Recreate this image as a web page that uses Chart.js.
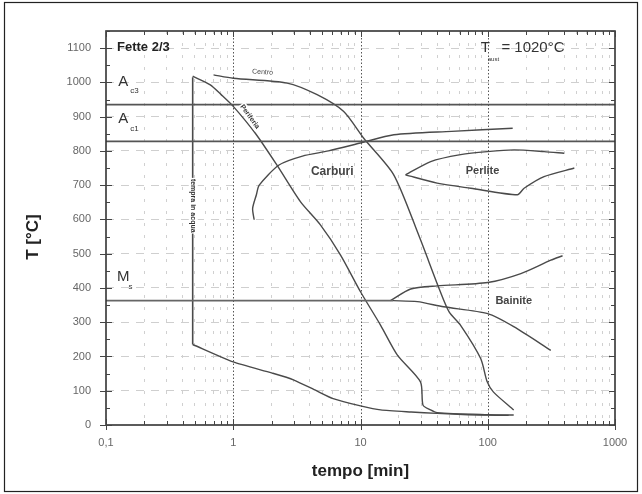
<!DOCTYPE html>
<html><head><meta charset="utf-8">
<script src="https://cdn.jsdelivr.net/npm/chart.js@4/dist/chart.umd.min.js"></script>
<style>html,body{margin:0;padding:0;background:#fff}#wrap{width:642px;height:494px}</style>
</head><body><div id="wrap"><canvas id="c" width="642" height="494"></canvas></div>
<script>
// ---- data (time in min, temperature in °C) ----
const xTickLabels = {0.1:"0,1", 1:"1", 10:"10", 100:"100", 1000:"1000"};
const yTickValues = [0,100,200,300,400,500,600,700,800,900,1000,1100];
const Ac3 = 935, Ac1 = 828, Ms = 363;
const curveFastDrop = [[0.48,1015],[0.48,235]];
const curveFast = [[0.48,235],[1,184],[2,152],[2.97,132],[4.5,100],[6.1,77],[10,56],[14.4,44],[25,38],[40,34],[70,30],[100,29],[146,28]];
const curveMid = [[0.48,1018],[0.66,993],[0.8,965],[1.0,930],[1.5,850],[2.2,759],[3.37,652],[4.84,584],[6.97,496],[10,389],[14.4,291],[19.5,204],[29.6,126],[31,58],[35.5,44],[40,36],[100,30],[160,29]];
const curveSlow = [[0.70,1022],[1.0,1012],[2.65,998],[4.56,964],[7.38,915],[10.6,837],[18.2,731],[28.6,555],[41.5,398],[49.7,330],[61.2,291],[88,194],[99,126],[111,96],[160,44]];
const carbides = [[1.46,599],[1.42,632],[1.52,672],[1.6,700],[2.29,759],[3.5,785],[5.6,800],[10,823],[18.3,847],[52,857],[157,866]];
const pearliteTop = [[22.6,730],[35.6,769],[61.2,789],[99,798],[161,803],[277,798],[398,793]];
const pearliteBottom = [[22.6,730],[40,706],[73.5,691],[171,672],[193,691],[277,725],[479,750]];
const bainiteTop = [[17.2,363],[24.8,397],[40,406],[100,416],[182,442],[313,481],[387,494]];
const bainiteBottom = [[18,363],[28,360],[45,345],[100,325],[160,287],[313,218]];
const msLine = [[0.1,Ms],[18,Ms]];
const ac3Line = [[0.1,Ac3],[1000,Ac3]];
const ac1Line = [[0.1,Ac1],[1000,Ac1]];

const pts = a => a.map(p => ({x:p[0], y:p[1]}));
const LC = '#4a4a4a';
const ds = (d, w, c, t) => ({data: pts(d), showLine:true, borderColor:c||LC, borderWidth:w||1.4, pointRadius:0, fill:false, tension:t===undefined?0.25:t});

const xTicks = [];
[0.1,1,10,100].forEach(d => { for (let k=1;k<10;k++) xTicks.push(+(d*k).toPrecision(3)); });
xTicks.push(1000);

const FONT = '"Liberation Sans", Arial, sans-serif';

const decor = {
  id:'decor',
  beforeDatasetsDraw(chart){
    const {ctx, chartArea:a, scales:{x,y}} = chart;
    ctx.save();
    ctx.strokeStyle='#555'; ctx.lineWidth=1; ctx.setLineDash([1.5,2]);
    [1,10,100].forEach(v=>{const px=Math.round(x.getPixelForValue(v))+0.5; ctx.beginPath(); ctx.moveTo(px,a.top); ctx.lineTo(px,a.bottom); ctx.stroke();});
    ctx.restore();
  },
  afterDatasetsDraw(chart){
    const {ctx, chartArea:a, scales:{x,y}} = chart;
    ctx.save();
    ctx.strokeStyle='#222'; ctx.lineWidth=1.2;
    ctx.strokeRect(4.5,2.5,633,489);
    ctx.strokeStyle='#333'; ctx.lineWidth=1.6;
    ctx.strokeRect(a.left,a.top,a.right-a.left,a.bottom-a.top);
    ctx.lineWidth=1; ctx.strokeStyle='#444';
    const line=(x1,y1,x2,y2)=>{ctx.beginPath();ctx.moveTo(x1,y1);ctx.lineTo(x2,y2);ctx.stroke();};
    for(let v=0; v<=1150; v+=50){
      const py=Math.round(y.getPixelForValue(v))+0.5, major=v%100===0;
      line(a.left-(major?6:0), py, a.left+(major?6:4), py);
      line(a.right-(major?6:4), py, a.right, py);
    }
    xTicks.forEach(v=>{
      const px=Math.round(x.getPixelForValue(v))+0.5, major=xTickLabels[v]!==undefined;
      line(px, a.bottom-(major?6:4), px, a.bottom+(major?5:0));
      line(px, a.top, px, a.top+(major?6:4));
    });
    const txt=(s,px,py,size,opt={})=>{
      ctx.save(); ctx.font=(opt.bold?'bold ':'')+size+'px '+FONT; ctx.fillStyle=opt.color||'#222';
      ctx.textAlign=opt.align||'left'; ctx.textBaseline='middle';
      ctx.translate(px,py); if(opt.rot) ctx.rotate(opt.rot);
      if(opt.bg){const w=ctx.measureText(s).width; ctx.fillStyle='#fff'; const ox=opt.align==='center'?-w/2:0; ctx.fillRect(ox-1,-size/2-1,w+2,size+2); ctx.fillStyle=opt.color||'#222';}
      ctx.fillText(s,0,0); ctx.restore();
    };
    const X=v=>x.getPixelForValue(v), Y=v=>y.getPixelForValue(v);
    txt('Fette 2/3', X(0.122), Y(1102), 13, {bold:true});
    txt('T', X(88), Y(1102), 15, {color:'#333'});
    txt('aust', X(100), Y(1068), 6, {color:'#333'});
    txt('= 1020°C', X(128), Y(1102), 15, {color:'#333'});
    txt('A', X(0.125), Y(1003), 15, {color:'#333'});
    txt('c3', X(0.155), Y(976), 8, {color:'#333'});
    txt('A', X(0.125), Y(895), 15, {color:'#333'});
    txt('c1', X(0.155), Y(866), 8, {color:'#333'});
    txt('M', X(0.122), Y(432), 15, {color:'#333'});
    txt('s', X(0.150), Y(402), 8, {color:'#333'});
    txt('Carburi', X(6.0), Y(740), 12, {bold:true, align:'center', color:'#444'});
    txt('Perlite', X(91), Y(742), 11, {bold:true, align:'center', color:'#444'});
    txt('Bainite', X(160), Y(362), 11, {bold:true, align:'center', color:'#444'});
    txt('Centro', X(1.7), Y(1030), 7, {align:'center', color:'#444', rot:0.06});
    txt('Periferia', X(1.35), Y(900), 7, {bold:true, align:'center', color:'#333', rot:0.95, bg:true});
    txt('tempra in acqua', X(0.485), Y(640), 7, {bold:true, align:'center', color:'#333', rot:Math.PI/2, bg:true});
    txt('T [°C]', 33, 237, 17, {bold:true, align:'center', color:'#222', rot:-Math.PI/2});
    txt('tempo [min]', (a.left+a.right)/2, 471, 17, {bold:true, align:'center', color:'#222'});
    ctx.restore();
  }
};

new Chart(document.getElementById('c'), {
  type:'scatter',
  data:{datasets:[
    ds(ac3Line,1.8,'#555',0), ds(ac1Line,1.8,'#555',0), ds(msLine,1.8,'#666',0),
    ds(curveFastDrop,1.6,LC,0), ds(curveFast,1.4,LC,0.2), ds(curveMid), ds(curveSlow), ds(carbides),
    ds(pearliteTop), ds(pearliteBottom), ds(bainiteTop), ds(bainiteBottom)
  ]},
  options:{
    responsive:false, animation:false, devicePixelRatio:1,
    layout:{padding:{top:31,right:27,left:0,bottom:0}},
    plugins:{legend:{display:false}, tooltip:{enabled:false}},
    scales:{
      x:{type:'logarithmic', min:0.1, max:1000,
        afterBuildTicks:s=>{s.ticks=xTicks.map(v=>({value:v}));},
        afterFit:s=>{s.height=69;},
        ticks:{autoSkip:false, maxRotation:0, padding:11, color:'#666', font:{family:FONT,size:11},
          callback:v=>xTickLabels[v]!==undefined?xTickLabels[v]:''},
        grid:{drawTicks:false, color:ctx=>{const v=ctx.tick&&ctx.tick.value; return (xTickLabels[v]!==undefined)?'rgba(0,0,0,0)':'#d0d0d0';}},
        border:{display:false, dash:[3,9]}
      },
      y:{type:'linear', min:0, max:1150,
        afterBuildTicks:s=>{s.ticks=yTickValues.map(v=>({value:v}));},
        afterFit:s=>{s.width=106;},
        ticks:{padding:15, color:'#666', font:{family:FONT,size:11}, callback:v=>String(v)},
        grid:{drawTicks:false, color:ctx=>(ctx.tick&&ctx.tick.value===0)?'rgba(0,0,0,0)':'#cfcfcf'},
        border:{display:false, dash:[8,7]}
      }
    }
  },
  plugins:[decor]
});
</script></body></html>
